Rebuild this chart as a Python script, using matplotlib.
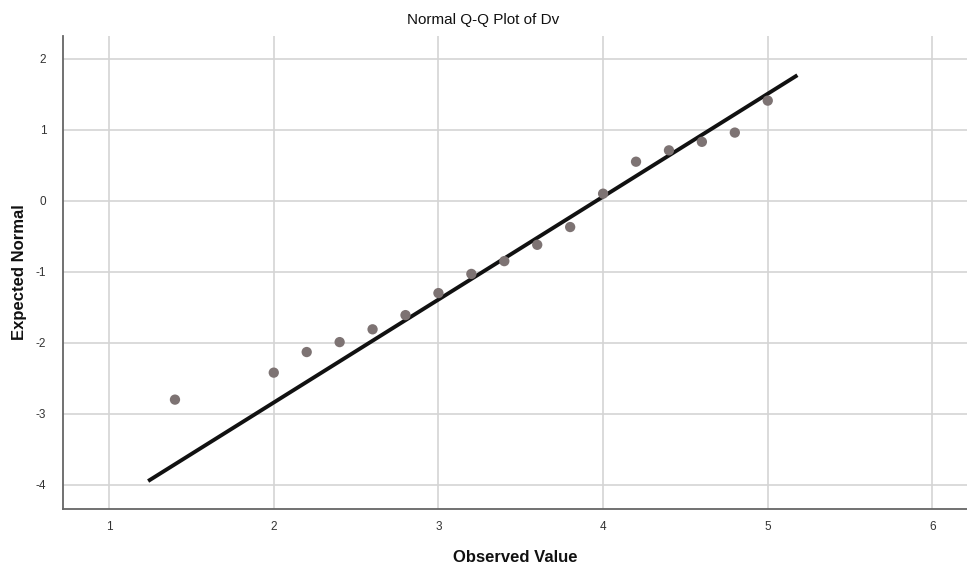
import numpy as np
import matplotlib.pyplot as plt

plt.rcParams['font.family'] = ['Liberation Sans', 'DejaVu Sans']
plt.rcParams['axes.unicode_minus'] = False

# observed values and their expected normal scores
observed = [1.4, 2.0, 2.2, 2.4, 2.6, 2.8, 3.0, 3.2, 3.4, 3.6, 3.8, 4.0, 4.2, 4.4, 4.6, 4.8, 5.0]
expected = [-2.80, -2.42, -2.13, -1.99, -1.81, -1.61, -1.30, -1.03, -0.85, -0.62, -0.37, 0.10,
            0.55, 0.71, 0.83, 0.96, 1.41]

# reference line y = (x - mean) / sd
line_mean = 3.96
line_sd = 0.69
line_x = [1.237, 5.18]

x_ticks = [1, 2, 3, 4, 5, 6]
y_ticks = [-4, -3, -2, -1, 0, 1, 2]

fig = plt.figure(figsize=(9.67, 5.70), dpi=100)
ax = fig.add_axes([63 / 967, 1 - 509 / 570, 904 / 967, 473 / 570])

ax.grid(True, color='#d4d4d4', linewidth=1.2)
ax.set_axisbelow(True)

lx = np.array(line_x)
ax.plot(lx, (lx - line_mean) / line_sd, color='#111111', linewidth=2.8, zorder=2,
        solid_capstyle='butt')
ax.scatter(observed, expected, s=55, color='#7d7373', edgecolors='none', zorder=3)

ax.set_xlim(0.72, 6.21)
ax.set_ylim(-4.34, 2.32)
ax.set_xticks(x_ticks)
ax.set_yticks(y_ticks)
ax.tick_params(length=0, labelsize=8.5, labelcolor='#333333')
ax.tick_params(axis='x', pad=9)
ax.tick_params(axis='y', pad=12)

for side in ['top', 'right']:
    ax.spines[side].set_visible(False)
for side in ['left', 'bottom']:
    ax.spines[side].set_color('#666666')
    ax.spines[side].set_linewidth(1.3)

fig.text(0.5, 1 - 20 / 570, 'Normal Q-Q Plot of Dv', ha='center', va='center',
         fontsize=11, color='#111111')
fig.text(515 / 967, 1 - 557 / 570, 'Observed Value', ha='center', va='center',
         fontsize=12, fontweight='bold', color='#111111')
fig.text(20 / 967, 1 - 272 / 570, 'Expected Normal', ha='center', va='center', rotation=90,
         fontsize=12, fontweight='bold', color='#111111')

fig.savefig('out.png', dpi=100)
